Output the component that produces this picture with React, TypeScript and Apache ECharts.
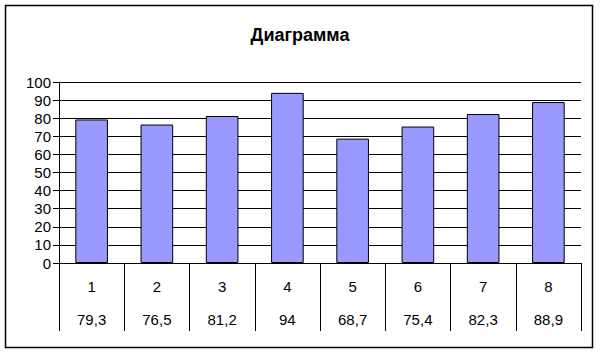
import React, { useEffect, useRef } from "react";
import * as echarts from "echarts";

const categories: string[] = ["1", "2", "3", "4", "5", "6", "7", "8"];
const values: number[] = [79.3, 76.5, 81.2, 94, 68.7, 75.4, 82.3, 88.9];
const valueLabels: string[] = ["79,3", "76,5", "81,2", "94", "68,7", "75,4", "82,3", "88,9"];
const yTicks: number[] = [0, 10, 20, 30, 40, 50, 60, 70, 80, 90, 100];

const FONT = "Arial, 'Liberation Sans', sans-serif";

export default function App() {
  const ref = useRef<HTMLDivElement>(null);
  useEffect(() => {
    document.body.style.margin = "0";
    const chart = echarts.init(ref.current!, null, { renderer: "svg" });
    chart.setOption({
      animation: false,
      backgroundColor: "#ffffff",
      title: {
        text: "Диаграмма",
        left: "center",
        top: 21,
        textStyle: { fontFamily: FONT, fontWeight: "bold", fontSize: 18, color: "#000" },
      },
      graphic: [
        {
          type: "rect",
          shape: { x: 5.5, y: 5.5, width: 587, height: 342 },
          style: { fill: "none", stroke: "#000", lineWidth: 1.5 },
          silent: true,
        },
      ],
      grid: { left: 59, right: 19, top: 82, bottom: 92 },
      xAxis: {
        type: "category",
        data: categories,
        boundaryGap: true,
        axisLine: { show: true, lineStyle: { color: "#000", width: 1 } },
        axisTick: { show: true, length: 68, lineStyle: { color: "#000", width: 1 } },
        axisLabel: {
          margin: 7,
          interval: 0,
          formatter: (v: string, i: number) => `{a|${v}}\n{b|${valueLabels[i]}}`,
          rich: {
            a: { fontFamily: FONT, fontSize: 15, color: "#000", lineHeight: 33, align: "center" },
            b: { fontFamily: FONT, fontSize: 15, color: "#000", lineHeight: 33, align: "center" },
          },
        },
      },
      yAxis: {
        type: "value",
        min: yTicks[0],
        max: yTicks[yTicks.length - 1],
        interval: 10,
        axisLine: { show: true, lineStyle: { color: "#000", width: 1 } },
        axisTick: { show: true, length: 6, lineStyle: { color: "#000", width: 1 } },
        axisLabel: { fontFamily: FONT, fontSize: 15, color: "#000", margin: 8 },
        splitLine: { show: true, lineStyle: { color: "#000", width: 1 } },
      },
      series: [
        {
          type: "bar",
          data: values,
          barWidth: "50%",
          itemStyle: { color: "#9999FF", borderColor: "#000", borderWidth: 1 },
        },
      ],
    });
    return () => chart.dispose();
  }, []);
  return <div ref={ref} style={{ width: 600, height: 355 }} />;
}
